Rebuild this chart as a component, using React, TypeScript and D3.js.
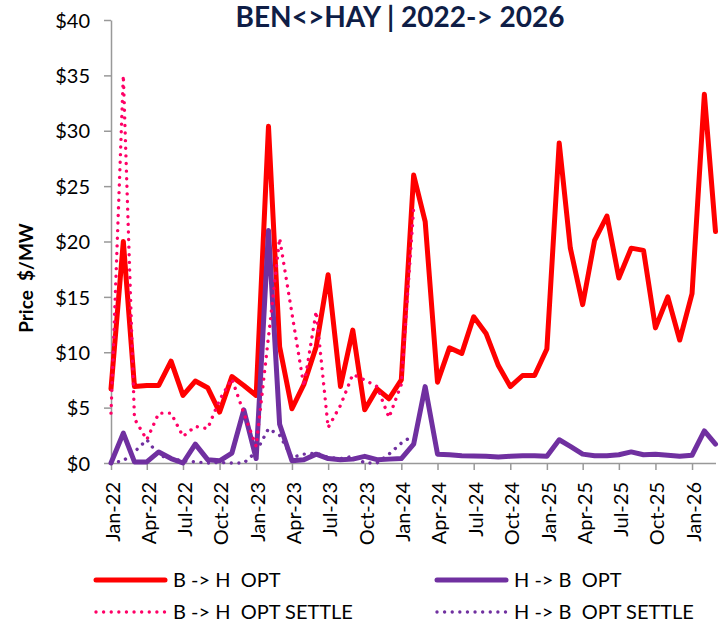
import { useEffect, useRef } from "react";
import * as d3 from "d3";

// Months on the x axis (one point per month)
const MONTHS = [
  "Jan-22", "Feb-22", "Mar-22", "Apr-22", "May-22", "Jun-22", "Jul-22", "Aug-22", "Sep-22", "Oct-22", "Nov-22", "Dec-22",
  "Jan-23", "Feb-23", "Mar-23", "Apr-23", "May-23", "Jun-23", "Jul-23", "Aug-23", "Sep-23", "Oct-23", "Nov-23", "Dec-23",
  "Jan-24", "Feb-24", "Mar-24", "Apr-24", "May-24", "Jun-24", "Jul-24", "Aug-24", "Sep-24", "Oct-24", "Nov-24", "Dec-24",
  "Jan-25", "Feb-25", "Mar-25", "Apr-25", "May-25", "Jun-25", "Jul-25", "Aug-25", "Sep-25", "Oct-25", "Nov-25", "Dec-25",
  "Jan-26", "Feb-26", "Mar-26",
];

const B_TO_H_OPT = [
  6.7, 20.0, 6.9, 7.0, 7.0, 9.2, 6.1, 7.4, 6.8, 4.6, 7.8, 7.0,
  6.1, 30.4, 10.5, 4.9, 7.1, 10.5, 17.0, 6.9, 12.0, 4.8, 6.7, 5.8,
  7.5, 26.0, 21.8, 7.3, 10.4, 9.9, 13.2, 11.7, 8.8, 6.9, 7.9, 7.9,
  10.3, 28.9, 19.4, 14.3, 20.1, 22.3, 16.7, 19.4, 19.2, 12.2, 15.0, 11.1,
  15.3, 33.3, 20.9,
];

const H_TO_B_OPT = [
  0.0, 2.7, 0.1, 0.1, 1.0, 0.4, 0.0, 1.7, 0.3, 0.2, 0.9, 4.8,
  0.4, 21.0, 3.5, 0.2, 0.3, 0.8, 0.4, 0.3, 0.35, 0.6, 0.3, 0.35,
  0.4, 1.7, 6.9, 0.8, 0.75, 0.65, 0.63, 0.6, 0.55, 0.6, 0.65, 0.65,
  0.6, 2.1, 1.5, 0.8, 0.65, 0.65, 0.75, 1.0, 0.75, 0.78, 0.7, 0.6,
  0.7, 2.9, 1.7,
];

// Settle series stop after Feb-24
const B_TO_H_SETTLE = [
  4.5, 35.0, 4.0, 2.1, 4.5, 4.5, 2.4, 3.3, 3.1, 5.7, 7.6, 4.5,
  1.5, 11.4, 20.3, 13.5, 6.9, 13.7, 3.2, 5.2, 8.0, 7.5, 6.9, 4.1,
  7.1, 23.0,
];

const H_TO_B_SETTLE = [
  0.0, 0.2, 1.0, 2.1, 0.7, 0.4, 0.2, 0.1, 0.0, 0.05, 0.0, 0.0,
  1.0, 3.1, 2.5, 0.5, 0.8, 0.9, 0.5, 0.4, 0.6, 0.0, 0.0, 0.8,
  1.8, 2.5,
];

const Y_TICKS = [0, 5, 10, 15, 20, 25, 30, 35, 40];
const X_END = "Mar-26";

const TITLE = "BEN<>HAY | 2022-> 2026";
const Y_LABEL = "Price  $/MW";

const SERIES = [
  { label: "B -> H  OPT", values: B_TO_H_OPT, color: "#ff0000", dotted: false },
  { label: "H -> B  OPT", values: H_TO_B_OPT, color: "#7030a0", dotted: false },
  { label: "B -> H  OPT SETTLE", values: B_TO_H_SETTLE, color: "#ff0066", dotted: true },
  { label: "H -> B  OPT SETTLE", values: H_TO_B_SETTLE, color: "#7030a0", dotted: true },
];

const WIDTH = 724;
const HEIGHT = 625;
const MARGIN = { top: 20, right: 8, bottom: 162, left: 111 };
const FONT = "Lato, 'Open Sans', sans-serif";

export default function App() {
  const svgRef = useRef<SVGSVGElement>(null);

  useEffect(() => {
    const svg = svgRef.current;
    if (!svg) return;
    d3.select(svg).selectAll("*").remove();

    const parse = d3.timeParse("%b-%y");
    const dates = MONTHS.map((m) => parse(m) as Date);

    const x = d3
      .scaleTime()
      .domain([dates[0], parse(X_END) as Date])
      .range([MARGIN.left, WIDTH - MARGIN.right - 0.5]);

    const y = d3
      .scaleLinear()
      .domain([0, 40])
      .range([HEIGHT - MARGIN.bottom, MARGIN.top]);

    const root = d3.select(svg);

    root
      .append("rect")
      .attr("width", WIDTH)
      .attr("height", HEIGHT)
      .attr("fill", "#fff");

    // Title
    root
      .append("text")
      .attr("x", 400)
      .attr("y", 27)
      .attr("text-anchor", "middle")
      .attr("font-family", FONT)
      .attr("font-weight", "700")
      .attr("font-size", "28px")
      .attr("fill", "#0f1e46")
      .style("white-space", "pre")
      .text(TITLE);

    // Y label
    root
      .append("text")
      .attr("transform", `translate(33,${278}) rotate(-90)`)
      .attr("text-anchor", "middle")
      .attr("font-family", FONT)
      .attr("font-weight", "700")
      .attr("font-size", "19px")
      .attr("fill", "#000")
      .style("white-space", "pre")
      .text(Y_LABEL);

    // Axes
    const yAxis = d3
      .axisLeft(y)
      .tickValues(Y_TICKS)
      .tickSize(7)
      .tickSizeOuter(0)
      .tickPadding(14)
      .tickFormat((d) => `$${d}`);

    root
      .append("g")
      .attr("transform", `translate(${MARGIN.left},0)`)
      .call(yAxis)
      .call((g) => g.select(".domain").attr("stroke", "#999").attr("stroke-width", 1.5))
      .call((g) => g.selectAll(".tick line").attr("stroke", "#999").attr("stroke-width", 1.5))
      .call((g) =>
        g
          .selectAll(".tick text")
          .attr("fill", "#000")
          .attr("font-family", FONT)
          .attr("font-size", "20px")
          .attr("dy", "0.36em")
      );

    const xAxis = d3
      .axisBottom(x)
      .ticks(d3.timeMonth.every(3))
      .tickSize(7)
      .tickSizeOuter(0)
      .tickFormat((d) => d3.timeFormat("%b-%y")(d as Date));

    root
      .append("g")
      .attr("transform", `translate(0,${HEIGHT - MARGIN.bottom})`)
      .call(xAxis)
      .call((g) => g.select(".domain").attr("stroke", "#999").attr("stroke-width", 1.5))
      .call((g) => g.selectAll(".tick line").attr("stroke", "#999").attr("stroke-width", 1.5))
      .call((g) =>
        g
          .selectAll(".tick text")
          .attr("fill", "#000")
          .attr("font-family", FONT)
          .attr("font-size", "20px")
          .attr("transform", "rotate(-90)")
          .attr("text-anchor", "end")
          .attr("x", -19)
          .attr("y", 0)
          .attr("dy", "0.42em")
      );

    // Lines
    const line = d3
      .line<number | null>()
      .defined((d) => d != null)
      .x((_, i) => x(dates[i]))
      .y((d) => y(d as number));

    SERIES.forEach((s) => {
      root
        .append("path")
        .datum(s.values as (number | null)[])
        .attr("fill", "none")
        .attr("stroke", s.color)
        .attr("stroke-width", s.dotted ? 3.4 : 5)
        .attr("stroke-linejoin", "round")
        .attr("stroke-linecap", "round")
        .attr("stroke-dasharray", s.dotted ? "0.01 7.6" : null)
        .attr("d", line);
    });

    // Legend
    const legendPos = [
      { x: 96, y: 580 },
      { x: 437, y: 580 },
      { x: 96, y: 612 },
      { x: 437, y: 612 },
    ];

    const legend = root
      .append("g")
      .selectAll("g")
      .data(SERIES)
      .join("g")
      .attr("transform", (_, i) => `translate(${legendPos[i].x},${legendPos[i].y})`);

    legend
      .append("line")
      .attr("x1", 0)
      .attr("x2", 69)
      .attr("stroke", (d) => d.color)
      .attr("stroke-width", (d) => (d.dotted ? 3.4 : 5))
      .attr("stroke-linecap", "round")
      .attr("stroke-dasharray", (d) => (d.dotted ? "0.01 7.6" : null));

    legend
      .append("text")
      .attr("x", 77)
      .attr("dy", "0.36em")
      .attr("font-family", FONT)
      .attr("font-size", "20px")
      .attr("fill", "#000")
      .style("white-space", "pre")
      .text((d) => d.label);
  }, []);

  return (
    <svg
      ref={svgRef}
      width={WIDTH}
      height={HEIGHT}
      style={{ position: "absolute", left: 0, top: 0, display: "block" }}
    />
  );
}
